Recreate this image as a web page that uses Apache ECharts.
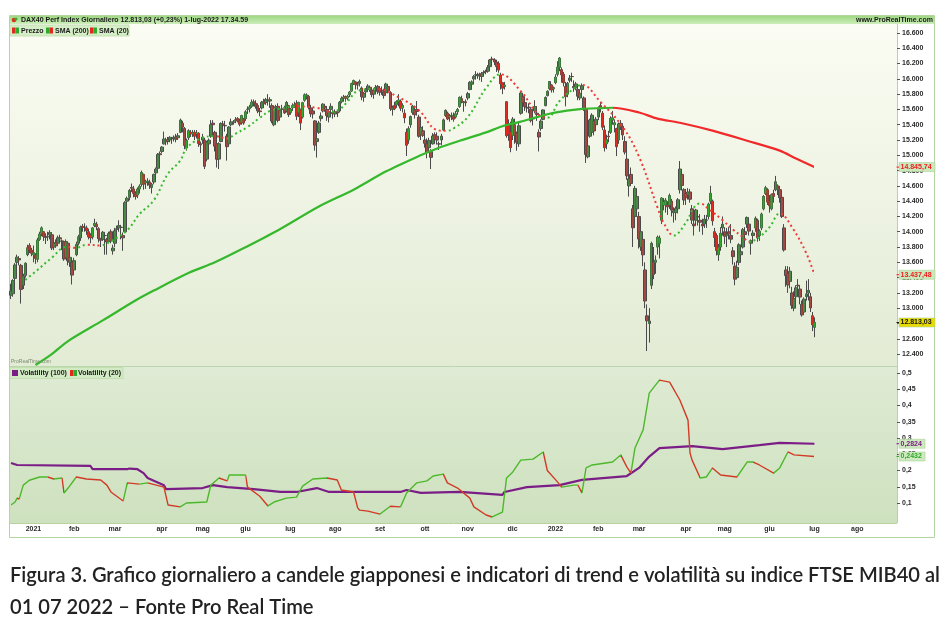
<!DOCTYPE html>
<html><head><meta charset="utf-8">
<script src="https://cdn.jsdelivr.net/npm/echarts@6/dist/echarts.min.js"></script>
<style>html,body{margin:0;padding:0;background:#fff;}#c{width:948px;height:641px;}</style>
</head><body><div id="c"></div>
<script>
// ---------- DATA: daily candles [open, close, low, high] ----------
const dec2020 = [[13170,13223,13120,13320],[13190,13362,13150,13380],[13390,13565,13360,13590],[13600,13667,13560,13700],[13650,13631,13560,13680],[13560,13246,13060,13580],[13300,13418,13250,13450],[13430,13587,13400,13600],[13700,13790,13680,13830],[13820,13761,13720,13850],[13760,13718,13680,13790]];
const jan2021 = [[13700,13726,13600,13820],[13690,13651,13580,13720],[13640,13892,13600,13920],[13900,13968,13880,14000],[13980,14050,13940,14070],[14000,13937,13880,14010],[13930,13925,13840,13980],[13930,13940,13880,14000],[13960,13989,13900,14020],[13960,13788,13760,13990],[13800,13848,13760,13880],[13860,13815,13790,13900],[13850,13921,13820,13950],[13920,13907,13850,13960],[13880,13874,13760,13900],[13870,13643,13620,13880],[13660,13871,13640,13900],[13850,13620,13560,13870],[13600,13665,13540,13720],[13600,13433,13310,13640]];
const feb2021 = [[13500,13622,13450,13660],[13700,13835,13680,13870],[13850,13933,13820,13960],[13920,14060,13880,14080],[14070,14056,14000,14100],[14060,14059,14000,14110],[14050,14012,13960,14080],[14000,13932,13900,14040],[13950,13921,13850,13980],[13930,14050,13900,14060],[14080,14109,14060,14170],[14100,14065,14020,14130],[14040,13909,13860,14060],[13900,13887,13800,13920],[13900,13993,13880,14010],[13950,13950,13700,13990],[13900,13865,13700,13920],[13870,13976,13850,14000],[14000,13879,13850,14030],[13750,13786,13700,13830]];
const mar2021 = [[13850,14012,13800,14050],[14030,14039,13960,14080],[14050,14080,14000,14150],[14060,14056,13900,14090],[13950,13920,13750,13990],[14000,14380,13990,14400],[14400,14437,14330,14460],[14450,14540,14410,14560],[14580,14569,14520,14630],[14560,14502,14450,14600],[14500,14461,14420,14530],[14480,14557,14440,14580],[14560,14596,14500,14620],[14620,14775,14590,14800],[14750,14621,14550,14760],[14640,14657,14560,14680],[14650,14662,14600,14700],[14650,14610,14560,14680],[14580,14621,14500,14640],[14650,14749,14620,14760],[14770,14818,14740,14840],[14830,15009,14820,15030],[15020,15008,14980,15050]];
const apr2021 = [[15050,15107,15030,15120],[15150,15212,15140,15310],[15200,15177,15130,15230],[15180,15203,15140,15240],[15200,15234,15170,15250],[15220,15215,15150,15240],[15220,15234,15180,15260],[15240,15209,15170,15280],[15230,15255,15200,15290],[15300,15460,15290,15480],[15420,15368,15300,15450],[15350,15129,15080,15370],[15100,15195,15060,15220],[15230,15321,15200,15340],[15300,15280,15240,15330],[15280,15296,15240,15330],[15300,15249,15200,15330],[15280,15292,15220,15330],[15290,15155,15110,15300],[15150,15136,15030,15180]];
const may2021 = [[15200,15236,15150,15280],[15200,14856,14820,15230],[14950,15170,14920,15190],[15150,15197,15070,15220],[15250,15400,15230,15460],[15420,15400,15360,15460],[15300,15119,15050,15320],[15150,14948,14840,15160],[14950,15150,14820,15170],[15180,15416,15170,15430],[15410,15397,15340,15450],[15390,15386,15310,15450],[15250,15113,14930,15280],[15150,15370,15120,15380],[15400,15437,15380,15480],[15430,15438,15400,15460],[15450,15465,15420,15500],[15480,15451,15430,15500],[15450,15406,15380,15480],[15430,15519,15400,15530],[15470,15421,15400,15490]];
const jun2021 = [[15480,15568,15450,15590],[15600,15603,15540,15640],[15610,15632,15560,15660],[15640,15693,15620,15730],[15700,15677,15640,15730],[15680,15640,15610,15720],[15650,15581,15550,15680],[15580,15571,15510,15620],[15620,15693,15600,15710],[15700,15674,15640,15740],[15690,15729,15660,15750],[15720,15711,15650,15800],[15710,15727,15620,15760],[15650,15448,15420,15680],[15400,15603,15380,15620],[15620,15636,15580,15660],[15640,15456,15430,15680],[15500,15589,15480,15610],[15600,15607,15560,15660],[15620,15554,15540,15650],[15580,15691,15560,15710],[15650,15531,15500,15660]];
const jul2021 = [[15560,15603,15530,15620],[15620,15650,15580,15680],[15650,15661,15620,15700],[15680,15511,15460,15720],[15560,15692,15500,15700],[15600,15421,15330,15610],[15500,15688,15480,15700],[15720,15791,15700,15810],[15770,15790,15730,15810],[15770,15629,15600,15790],[15620,15543,15500,15660],[15580,15540,15480,15620],[15450,15133,15060,15460],[15180,15216,14970,15280],[15300,15422,15280,15450],[15480,15514,15440,15560],[15580,15669,15560,15680],[15640,15618,15570,15660],[15600,15519,15450,15640],[15500,15570,15430,15600],[15600,15640,15560,15680],[15560,15544,15480,15590]];
const aug2021 = [[15540,15568,15500,15600],[15570,15555,15500,15600],[15580,15692,15560,15710],[15700,15744,15680,15770],[15750,15761,15700,15790],[15770,15745,15700,15780],[15750,15770,15720,15790],[15790,15826,15760,15840],[15840,15937,15830,15950],[15940,15977,15920,15990],[15960,15925,15860,15970],[15920,15921,15860,15960],[15940,15965,15900,15990],[15880,15765,15720,15900],[15760,15808,15700,15830],[15830,15852,15800,15880],[15860,15906,15840,15930],[15890,15860,15830,15910],[15850,15794,15760,15870],[15800,15852,15740,15880],[15880,15888,15850,15920],[15900,15835,15800,15920]];
const sep2021 = [[15870,15824,15780,15900],[15850,15841,15790,15900],[15830,15781,15740,15870],[15820,15932,15810,15950],[15900,15843,15810,15910],[15820,15610,15580,15840],[15600,15623,15520,15650],[15650,15609,15590,15700],[15660,15701,15620,15720],[15700,15722,15640,15800],[15710,15616,15580,15730],[15620,15651,15560,15680],[15550,15490,15420,15600],[15300,15132,14990,15350],[15200,15348,15150,15380],[15400,15506,15360,15520],[15560,15644,15530,15660],[15590,15531,15480,15650],[15600,15573,15520,15710],[15500,15249,15230,15530],[15270,15365,15200,15380],[15320,15261,15240,15380]];
const oct2021 = [[15200,15157,15100,15280],[15150,15036,14960,15220],[15100,15195,15080,15230],[15050,14973,14820,15080],[15150,15252,15140,15290],[15270,15206,15180,15300],[15250,15199,15140,15300],[15150,15147,15070,15180],[15200,15250,15130,15280],[15330,15463,15320,15480],[15520,15587,15500,15600],[15550,15474,15460,15570],[15500,15516,15440,15540],[15520,15523,15460,15560],[15510,15473,15440,15560],[15500,15543,15480,15580],[15570,15599,15530,15620],[15640,15757,15620,15770],[15740,15705,15680,15780],[15690,15696,15570,15710],[15700,15688,15640,15730]];
const nov2021 = [[15750,15807,15720,15830],[15860,15954,15850,15970],[15930,15959,15880,15980],[16000,16029,15960,16050],[16050,16054,15990,16100],[16040,16046,16000,16080],[16060,16040,15980,16080],[16030,16067,15960,16090],[16080,16083,16040,16110],[16100,16094,16060,16120],[16100,16148,16080,16180],[16160,16247,16140,16260],[16260,16251,16210,16290],[16250,16221,16180,16270],[16220,16160,16090,16250],[16200,16115,16080,16230],[16050,15937,15860,16080],[15950,15878,15800,15960],[15900,15917,15860,15960],[15700,15257,15230,15710],[15400,15280,15190,15470],[15300,15100,15040,15440]];
const dec2021 = [[15260,15473,15200,15500],[15400,15263,15150,15480],[15290,15170,15060,15310],[15150,15386,15110,15440],[15550,15814,15530,15830],[15770,15687,15650,15800],[15690,15639,15580,15700],[15620,15623,15560,15680],[15630,15621,15550,15680],[15600,15453,15430,15620],[15480,15476,15390,15530],[15580,15637,15550,15720],[15550,15532,15450,15640],[15300,15239,15050,15340],[15350,15447,15320,15470],[15470,15593,15460,15600],[15650,15756,15640,15770],[15780,15837,15770,15850],[15870,15964,15850,15970],[15920,15853,15820,15930],[15870,15885,15820,15900]];
const jan2022 = [[15950,16021,15930,16060],[16060,16152,16030,16230],[16150,16271,16100,16285],[16120,16052,15950,16150],[16060,15948,15900,16090],[15900,15768,15640,15960],[15800,15942,15760,15960],[15980,16010,15950,16050],[16030,16031,15960,16080],[15900,15883,15830,15980],[15880,15933,15850,15960],[15860,15773,15720,15890],[15750,15810,15720,15850],[15860,15912,15770,15940],[15750,15603,15580,15770],[15600,15011,14900,15640],[14980,15123,14960,15300],[15250,15460,15230,15480],[15300,15524,15280,15550],[15450,15318,15260,15490],[15400,15471,15330,15500]];
const feb2022 = [[15500,15619,15460,15640],[15650,15613,15560,15700],[15550,15368,15330,15580],[15330,15100,15050,15390],[15150,15207,15080,15270],[15250,15242,15170,15320],[15300,15482,15280,15510],[15460,15490,15400,15580],[15400,15425,15300,15470],[15350,15113,14990,15360],[15200,15412,15150,15430],[15420,15370,15330,15460],[15380,15267,15200,15420],[15180,15042,15010,15250],[14950,14731,14680,15050],[14600,14693,14460,14800],[14750,14631,14600,14840],[14300,14052,13800,14350],[14200,14567,14150,14600],[14300,14461,14200,14530]];
const mar2022 = [[14200,13905,13780,14260],[13800,14000,13750,14050],[13900,13698,13550,14000],[13500,13094,13000,13600],[12900,12835,12440,13050],[12800,12831,12550,13000],[13300,13847,13250,13870],[13600,13442,13380,13800],[13600,13628,13450,13690],[13800,13929,13700,13950],[13850,13917,13650,13950],[14150,14441,14100,14450],[14350,14388,14280,14440],[14350,14413,14250,14440],[14350,14326,14220,14400],[14350,14473,14300,14500],[14400,14283,14200,14430],[14250,14273,14120,14320],[14250,14305,14150,14330],[14300,14418,14240,14440],[14550,14820,14500,14925],[14750,14606,14540,14770],[14550,14415,14350,14570]];
const apr2022 = [[14500,14446,14350,14560],[14480,14518,14420,14570],[14520,14425,14380,14560],[14300,14153,14100,14350],[14100,14078,13950,14160],[14150,14284,14100,14300],[14200,14193,14080,14270],[14150,14125,14000,14230],[14100,14076,13960,14170],[14100,14164,14050,14220],[14150,14153,14050,14220],[14200,14362,14160,14380],[14400,14502,14360,14600],[14400,14142,14080,14420],[14000,13924,13800,14050],[13950,13756,13690,13980],[13700,13793,13620,13840],[13800,13979,13750,14060],[14050,14098,13950,14200]];
const may2022 = [[14000,13940,13840,14060],[13950,13970,13800,14050],[14000,13971,13900,14060],[13950,13903,13850,14100],[13750,13674,13570,13800],[13550,13380,13300,13600],[13400,13534,13380,13620],[13600,13829,13560,13850],[13700,13739,13600,13800],[13800,14027,13780,14050],[14000,13964,13880,14060],[14100,14186,14050,14200],[14100,14008,13950,14150],[13850,13882,13700,13900],[13950,13982,13850,14020],[14050,14176,14000,14200],[14150,13920,13870,14170],[13950,14008,13880,14030],[14050,14231,14020,14250],[14300,14462,14280,14480],[14500,14575,14480,14600],[14550,14388,14350,14570]];
const jun2022 = [[14400,14340,14250,14480],[14300,14485,14280,14500],[14500,14461,14380,14550],[14550,14653,14530,14730],[14600,14556,14480,14620],[14550,14446,14380,14600],[14450,14199,14180,14500],[14050,13762,13740,14100],[13500,13427,13280,13550],[13450,13304,13200,13550],[13350,13483,13260,13540],[13200,13038,12990,13280],[13000,13126,12960,13220],[13150,13266,13100,13300],[13300,13292,13200,13380],[13250,13145,13050,13300],[13050,12912,12890,13100],[12950,13118,12930,13140],[13150,13186,13100,13360],[13200,13232,13100,13380],[13150,13003,12950,13200],[12900,12784,12700,12950]];
const jul2022 = [[12750,12813.03,12620,12880]];

// ---------- indicators: [slot index, value] ----------
const sma200 = [[12,12257],[20,12400],[28,12570],[45,12840],[61,13100],[70,13230],[87,13460],[100,13600],[113,13770],[131,14020],[151,14330],[168,14550],[184,14790],[200,14990],[209,15090],[220,15190],[233,15300],[241,15380],[250,15440],[258,15500],[266,15555],[279,15605],[290,15618],[295,15622],[308,15560],[317,15480],[328,15425],[344,15322],[361,15191],[377,15061],[385,14957],[394,14845.74]];
const sma20 = [[7,13370],[13,13500],[20,13660],[27,13800],[32,13790],[37,13830],[44,13820],[48,13860],[57,14020],[63,14230],[70,14410],[77,14760],[83,14930],[86,15090],[93,15220],[100,15250],[106,15220],[110,15280],[116,15370],[122,15490],[127,15580],[132,15610],[140,15640],[150,15620],[157,15570],[161,15600],[165,15700],[170,15840],[179,15870],[190,15760],[200,15590],[209,15330],[214,15320],[217,15350],[224,15500],[233,15880],[240,16060],[250,15840],[258,15550],[263,15490],[269,15710],[277,15890],[280,15920],[289,15700],[300,15370],[308,14980],[317,14320],[320,14120],[325,13950],[331,14120],[335,14320],[338,14370],[342,14300],[349,14150],[354,14030],[359,13930],[362,13870],[367,13930],[372,14060],[377,14240],[383,14060],[390,13720],[394,13437.48]];
const vol100 = [[0,0.223],[3,0.217],[39,0.214],[40,0.204],[57,0.204],[58,0.206],[62,0.204],[65,0.192],[67,0.177],[75,0.155],[76,0.143],[94,0.146],[99,0.155],[106,0.149],[119,0.143],[132,0.134],[140,0.134],[150,0.146],[156,0.134],[191,0.134],[194,0.14],[201,0.131],[220,0.134],[241,0.125],[242,0.134],[253,0.149],[269,0.155],[280,0.171],[302,0.183],[308,0.208],[313,0.243],[318,0.269],[334,0.275],[349,0.266],[367,0.278],[377,0.285],[394,0.2824]];
const vol20 = [[0,0.094],[2,0.103],[3,0.115],[4,0.112],[6,0.155],[9,0.17],[14,0.18],[18,0.18],[21,0.174],[25,0.177],[26,0.131],[28,0.146],[32,0.18],[37,0.174],[44,0.171],[47,0.155],[49,0.134],[55,0.106],[57,0.162],[63,0.158],[67,0.162],[75,0.149],[77,0.094],[83,0.088],[86,0.1],[96,0.103],[98,0.155],[102,0.177],[106,0.168],[107,0.186],[115,0.186],[116,0.149],[122,0.121],[126,0.091],[129,0.103],[135,0.115],[140,0.118],[143,0.152],[148,0.174],[155,0.177],[160,0.171],[162,0.14],[168,0.134],[170,0.085],[171,0.078],[175,0.075],[181,0.066],[186,0.09],[191,0.088],[194,0.131],[199,0.162],[204,0.168],[207,0.183],[212,0.189],[214,0.162],[219,0.146],[225,0.115],[227,0.088],[233,0.063],[236,0.057],[241,0.072],[243,0.177],[246,0.195],[250,0.232],[256,0.235],[261,0.257],[263,0.2],[268,0.165],[270,0.149],[276,0.155],[278,0.155],[280,0.131],[282,0.208],[285,0.217],[295,0.226],[299,0.248],[302,0.211],[304,0.192],[306,0.269],[310,0.325],[313,0.438],[318,0.478],[323,0.472],[328,0.417],[332,0.355],[333,0.254],[334,0.232],[338,0.177],[341,0.18],[344,0.208],[348,0.186],[356,0.18],[361,0.226],[364,0.226],[367,0.217],[374,0.192],[377,0.208],[381,0.257],[384,0.248],[394,0.2432]];

// ---------- ticks / labels ----------
const priceTicks = [12400,12600,12800,13000,13200,13400,13600,13800,14000,14200,14400,14600,14800,15000,15200,15400,15600,15800,16000,16200,16400,16600];
const volTicks = [0.1,0.15,0.2,0.25,0.3,0.35,0.4,0.45,0.5];
const monthTicks = [[11,'2021'],[31,'feb'],[51,'mar'],[74,'apr'],[94,'mag'],[115,'giu'],[137,'lug'],[159,'ago'],[181,'set'],[203,'ott'],[224,'nov'],[246,'dic'],[267,'2022'],[288,'feb'],[308,'mar'],[331,'apr'],[350,'mag'],[372,'giu'],[394,'lug'],[415,'ago']];
const SLOTS = 435;
const last = {price:12813.03, sma200:14845.74, sma20:13437.48, vol100:0.2824, vol20:0.2432};
const headerText = 'DAX40 Perf Index Giornaliero 12.813,03 (+0,23%) 1-lug-2022 17.34.59';
const caption1 = 'Figura 3. Grafico giornaliero a candele giapponesi e indicatori di trend e volatilità su indice FTSE MIB40 al';
const caption2 = '01 07 2022 – Fonte Pro Real Time';

// ---------- build ----------
const candles = [].concat(dec2020,jan2021,feb2021,mar2021,apr2021,may2021,jun2021,jul2021,aug2021,sep2021,oct2021,nov2021,dec2021,jan2022,feb2022,mar2022,apr2022,may2022,jun2022,jul2022);
const categories = Array.from({length: SLOTS}, (_, i) => String(i));
const tickMap = new Map(monthTicks);

const UP='#2faa2a', DN='#e02a20';
const L=10, R=897, T0=24, B0=366, T1=367, B1=523;
const F='"Liberation Sans", Arial, sans-serif';

function slopePieces(arr, up, dn){
  const segs=[];
  for(let i=0;i<arr.length-1;i++){
    const c = arr[i+1][1] >= arr[i][1] ? up : dn;
    const a=arr[i][0], b=arr[i+1][0];
    if(segs.length && segs[segs.length-1].color===c) segs[segs.length-1].lt=b;
    else segs.push({gte:a, lt:b, color:c});
  }
  segs[segs.length-1].lte = segs[segs.length-1].lt; delete segs[segs.length-1].lt;
  return segs;
}
const fmtPrice = v => { const s = String(Math.round(v)); return s.replace(/\B(?=(\d{3})+(?!\d))/g,'.'); };
const fmtVol = v => String(+v.toFixed(2)).replace('.',',');

const g = [];
function add(el){ el.id = 'g'+g.length; g.push(el); }
// header bar
add({type:'rect', shape:{x:L,y:16,width:925,height:8}, style:{fill:new echarts.graphic.LinearGradient(0,0,0,1,[{offset:0,color:'#9fd884'},{offset:1,color:'#cdeebb'}])}, z:-5});
add({type:'circle', shape:{cx:14,cy:20,r:2.3}, style:{fill:'#e03020'}, z:5});
add({type:'circle', shape:{cx:16,cy:19,r:1.6}, style:{fill:'#30b030'}, z:5});
add({type:'text', x:21, y:20, style:{text:headerText, font:'bold 7px '+F, fill:'#1a1a1a', textVerticalAlign:'middle', verticalAlign:'middle'}, z:5});
add({type:'text', x:933, y:20, style:{text:'www.ProRealTime.com', font:'bold 7px '+F, fill:'#1a1a1a', textAlign:'right', align:'right', textVerticalAlign:'middle', verticalAlign:'middle'}, z:5});
// upper panel bg
add({type:'rect', shape:{x:L,y:T0,width:R-L,height:B0-T0}, style:{fill:new echarts.graphic.LinearGradient(0,0,0,1,[{offset:0,color:'#fbfcf3'},{offset:1,color:'#e2ebd4'}])}, z:-10});
// lower panel bg
add({type:'rect', shape:{x:L,y:T1,width:R-L,height:B1-T1}, style:{fill:new echarts.graphic.LinearGradient(0,0,0,1,[{offset:0,color:'#dfebd4'},{offset:1,color:'#cee1bf'}])}, z:-10});
add({type:'line', shape:{x1:L,y1:366.5,x2:R,y2:366.5}, style:{stroke:'#bcd6ac', lineWidth:1}, z:-4});
add({type:'line', shape:{x1:R+0.5,y1:T0,x2:R+0.5,y2:B1}, style:{stroke:'#b8d2a6', lineWidth:1}, z:-4});
add({type:'line', shape:{x1:L,y1:B1+0.5,x2:R,y2:B1+0.5}, style:{stroke:'#b8d2a6', lineWidth:1}, z:-4});
// outer frame
add({type:'rect', shape:{x:L-0.5,y:15.5,width:925,height:522}, style:{fill:null, stroke:'#b3d59f', lineWidth:1}, z:-3});
// upper legend
add({type:'rect', shape:{x:L,y:25,width:119,height:11}, style:{fill:'#d6eec7', stroke:'#bedcab', lineWidth:0.8}, z:4});
function icon(x,y,c1,c2){ add({type:'rect', shape:{x:x,y:y,width:3.5,height:6}, style:{fill:c1}, z:5}); add({type:'rect', shape:{x:x+3.5,y:y,width:3.5,height:6}, style:{fill:c2}, z:5}); }
icon(12,27.5,DN,UP); icon(46,27.5,UP,DN); icon(90,27.5,DN,UP);
[[21,'Prezzo'],[55,'SMA (200)'],[99,'SMA (20)']].forEach(([x,t])=>add({type:'text', x:x, y:31, style:{text:t, font:'bold 7px '+F, fill:'#1a1a1a', textVerticalAlign:'middle', verticalAlign:'middle'}, z:5}));
// watermark
add({type:'text', x:11, y:362, style:{text:'ProRealTime.com', font:'5px '+F, fill:'#7a8a70', textVerticalAlign:'middle', verticalAlign:'middle'}, z:5});
// lower legend
add({type:'rect', shape:{x:L,y:367.5,width:113,height:11}, style:{fill:'#d3ebc4', stroke:'#bedcab', lineWidth:0.8}, z:4});
add({type:'rect', shape:{x:12,y:370,width:6,height:6}, style:{fill:'#7b1d86'}, z:5});
icon(70,370,DN,UP);
[[20,'Volatility (100)'],[78,'Volatility (20)']].forEach(([x,t])=>add({type:'text', x:x, y:373.5, style:{text:t, font:'bold 7px '+F, fill:'#1a1a1a', textVerticalAlign:'middle', verticalAlign:'middle'}, z:5}));
// caption
add({type:'text', x:10, y:576, style:{text:caption1, font:'600 20.1px Lato, sans-serif', fill:'#222', textVerticalAlign:'middle', verticalAlign:'middle'}, z:5});
add({type:'text', x:10, y:608, style:{text:caption2, font:'600 20.1px Lato, sans-serif', fill:'#222', textVerticalAlign:'middle', verticalAlign:'middle'}, z:5});

const P_MIN = 12243.7, P_MAX = 16717.4, V_MIN = 0.0385, V_MAX = 0.5185;
const axisLbl = {fontSize:7, fontWeight:'bold', fontFamily:F, color:'#2a2a2a'};

const option = {
  animation:false,
  backgroundColor:'#ffffff',
  grid:[{left:L, right:948-R, top:T0, height:B0-T0}, {left:L, right:948-R, top:T1, height:B1-T1}],
  xAxis:[
    {type:'category', gridIndex:0, data:categories, axisLine:{show:false}, axisTick:{show:false}, axisLabel:{show:false}, splitLine:{show:false}},
    {type:'category', gridIndex:1, data:categories, axisLine:{show:false}, axisTick:{show:false}, splitLine:{show:false},
     axisLabel:Object.assign({interval:(i)=>tickMap.has(i), formatter:(v,i)=>tickMap.get(Number(v))||'', margin:3}, axisLbl)}
  ],
  yAxis:[
    {type:'value', gridIndex:0, position:'right', min:P_MIN, max:P_MAX, splitLine:{show:false},
     axisLine:{show:false}, axisTick:{show:true, length:3, customValues:priceTicks, lineStyle:{color:'#555'}},
     axisLabel:Object.assign({customValues:priceTicks, formatter:fmtPrice, margin:5}, axisLbl)},
    {type:'value', gridIndex:1, position:'right', min:V_MIN, max:V_MAX, splitLine:{show:false},
     axisLine:{show:false}, axisTick:{show:true, length:3, customValues:volTicks, lineStyle:{color:'#555'}},
     axisLabel:Object.assign({customValues:volTicks, formatter:fmtVol, margin:5}, axisLbl)}
  ],
  visualMap:[
    {type:'piecewise', show:false, seriesIndex:2, dimension:0, pieces:slopePieces(sma200,'#35b82c','#f02a2a')},
    {type:'piecewise', show:false, seriesIndex:3, dimension:0, pieces:slopePieces(sma20,'#38b830','#f03a3a')},
    {type:'piecewise', show:false, seriesIndex:5, dimension:0, pieces:slopePieces(vol20,'#4cb82a','#d23a26')}
  ],
  series:[
    {type:'candlestick', xAxisIndex:0, yAxisIndex:0, data:candles, barWidth:3, silent:true,
     itemStyle:{color:'#666', color0:'#666', borderColor:'#4a4a4a', borderColor0:'#4a4a4a', borderWidth:1}},
    {type:'candlestick', xAxisIndex:0, yAxisIndex:0, data:candles, barWidth:1.8, silent:true,
     itemStyle:{color:UP, color0:DN, borderColor:'rgba(0,0,0,0)', borderColor0:'rgba(0,0,0,0)', borderWidth:0}},
    {type:'line', xAxisIndex:0, yAxisIndex:0, data:sma200, symbol:'none', smooth:0.3, lineStyle:{width:2.2}, silent:true, z:3},
    {type:'line', xAxisIndex:0, yAxisIndex:0, data:sma20, symbol:'none', smooth:0.4, lineStyle:{width:2, type:[2,3]}, silent:true, z:3},
    {type:'line', xAxisIndex:1, yAxisIndex:1, data:vol100, symbol:'none', lineStyle:{width:2.2, color:'#7b1d86'}, itemStyle:{color:'#7b1d86'}, silent:true, z:3},
    {type:'line', xAxisIndex:1, yAxisIndex:1, data:vol20, symbol:'none', lineStyle:{width:1.4}, silent:true, z:4}
  ],
  graphic:g
};

const chart = echarts.init(document.getElementById('c'), null, {renderer:'canvas'});
chart.setOption(option);

// value boxes on the right axis, positioned through the axes
const boxes = [
  {axis:0, v:last.sma200, text:'14.845,74', fill:'#f21c1c', bg:'#cbe9bd'},
  {axis:0, v:last.sma20, text:'13.437,48', fill:'#f21c1c', bg:'#cbe9bd'},
  {axis:0, v:last.price, text:'12.813,03', fill:'#111', bg:'#e9db00'},
  {axis:1, v:last.vol100, text:'0,2824', fill:'#7b1d86', bg:'#cfeac0'},
  {axis:1, v:last.vol20, text:'0,2432', fill:'#2fa82a', bg:'#cfeac0'}
];
const extra = [];
boxes.forEach((b,i)=>{
  const y = chart.convertToPixel({yAxisIndex:b.axis}, b.v);
  extra.push({id:'bx'+i, type:'rect', shape:{x:R+2,y:y-4.5,width:(b.axis===0?36:26),height:9}, style:{fill:b.bg, stroke:'#a9d292', lineWidth:0.6}, z:20});
  extra.push({id:'bt'+i, type:'text', x:R+3.5, y:y, style:{text:b.text, font:'bold 7px '+F, fill:b.fill, textVerticalAlign:'middle', verticalAlign:'middle'}, z:21});
  extra.push({id:'bl'+i, type:'line', shape:{x1:R-0.5,y1:y,x2:R+2,y2:y}, style:{stroke:b.fill, lineWidth:1}, z:21});
});
chart.setOption({graphic:extra});
</script></body></html>
